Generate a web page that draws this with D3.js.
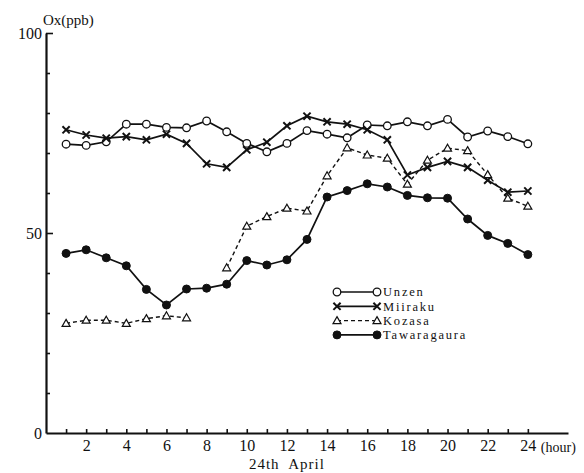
<!DOCTYPE html>
<html>
<head>
<meta charset="utf-8">
<script src="https://cdn.jsdelivr.net/npm/d3@7/dist/d3.min.js"></script>
<style>
  html, body { margin: 0; padding: 0; background: #fff; }
  svg { display: block; }
  text { font-family: "Liberation Serif", "Times New Roman", serif; fill: #111; }
</style>
</head>
<body>
<svg id="chart" width="584" height="473"></svg>
<script>
// Hourly Ox concentration (ppb) on 24th April at four stations
const hours = [1, 2, 3, 4, 5, 6, 7, 8, 9, 10, 11, 12, 13, 14, 15, 16, 17, 18, 19, 20, 21, 22, 23, 24];
const unzen = [72.2, 71.9, 72.8, 77.2, 77.2, 76.4, 76.3, 78.0, 75.3, 72.4, 70.3, 72.4, 75.6, 74.7, 73.8, 77.0, 76.8, 77.8, 76.8, 78.4, 74.0, 75.5, 74.1, 72.3];
const miiraku = [75.8, 74.5, 73.7, 74.1, 73.3, 74.7, 72.4, 67.3, 66.4, 70.8, 72.7, 76.8, 79.2, 77.8, 77.2, 75.8, 73.3, 64.5, 66.4, 67.9, 66.4, 63.2, 60.2, 60.5];
const kozasa = [27.4, 28.2, 28.2, 27.4, 28.6, 29.3, 28.8, null, 41.3, 51.7, 54.1, 56.2, 55.5, 64.3, 71.3, 69.5, 68.7, 62.2, 68.2, 71.2, 70.6, 64.6, 58.7, 56.7];
const tawaragaura = [44.9, 45.8, 43.8, 41.8, 35.9, 32.0, 36.0, 36.2, 37.2, 43.1, 42.0, 43.3, 48.4, 59.0, 60.6, 62.3, 61.5, 59.4, 58.8, 58.7, 53.5, 49.4, 47.4, 44.6];

const seriesNames = ["Unzen", "Miiraku", "Kozasa", "Tawaragaura"];
const xTickValues = hours;
const xTickLabels = [2, 4, 6, 8, 10, 12, 14, 16, 18, 20, 22, 24];
const yTickValues = [0, 10, 20, 30, 40, 50, 60, 70, 80, 90, 100];
const yTickLabels = [0, 50, 100];

const svg = d3.select("#chart");

const x = d3.scaleLinear().domain([0, 26]).range([46, 568]);
const y = d3.scaleLinear().domain([0, 100]).range([433, 33]);

// ---- axes ----
const xAxis = d3.axisBottom(x)
  .tickValues(xTickValues)
  .tickSizeInner(-4)
  .tickSizeOuter(0)
  .tickPadding(8)
  .tickFormat(d => xTickLabels.includes(d) ? d : "");

const gx = svg.append("g").attr("transform", `translate(0,${y(0)})`).call(xAxis);
gx.select(".domain").attr("stroke", "#111").attr("stroke-width", 2.2);
gx.selectAll(".tick line").attr("stroke", "#111").attr("stroke-width", 1.6);
gx.selectAll(".tick text")
  .attr("font-size", 16)
  .attr("font-family", "Liberation Serif")
  .attr("fill", "#111")
  .attr("dy", "0.62em");

const yAxis = d3.axisLeft(y)
  .tickValues(yTickValues)
  .tickSizeInner(-4)
  .tickSizeOuter(0)
  .tickPadding(4)
  .tickFormat(d => yTickLabels.includes(d) ? d : "");

const gy = svg.append("g").attr("transform", `translate(${x(0)},0)`).call(yAxis);
gy.select(".domain").attr("stroke", "#111").attr("stroke-width", 2.2);
gy.selectAll(".tick line")
  .attr("stroke", "#111")
  .attr("stroke-width", 1.6)
  .attr("x2", d => (d === 50 || d === 100) ? 7 : (d === 0 ? 0 : 4));
gy.selectAll(".tick text")
  .attr("font-size", 16)
  .attr("font-family", "Liberation Serif")
  .attr("fill", "#111");

// axis titles
svg.append("text")
  .attr("x", x(0) - 3).attr("y", 25)
  .attr("font-size", 15)
  .text("Ox(ppb)");

svg.append("text")
  .attr("x", x(24) + 13).attr("y", 452)
  .attr("font-size", 14)
  .text("(hour)");

svg.append("text")
  .attr("x", x(12)).attr("y", 469)
  .attr("text-anchor", "middle")
  .attr("font-size", 15)
  .attr("letter-spacing", 1)
  .style("white-space", "pre")
  .text("24th  April");

// ---- series ----
const stroke = "#111";
const lineGen = d3.line()
  .defined(d => d.v !== null)
  .x(d => x(d.h))
  .y(d => y(d.v));

const series = [
  { name: seriesNames[0], values: unzen, marker: "open", dash: null },
  { name: seriesNames[1], values: miiraku, marker: "cross", dash: null },
  { name: seriesNames[2], values: kozasa, marker: "triangle", dash: "4,3" },
  { name: seriesNames[3], values: tawaragaura, marker: "filled", dash: null }
];

function drawMarker(g, kind, cx, cy) {
  if (kind === "open") {
    g.append("circle").attr("cx", cx).attr("cy", cy).attr("r", 3.8)
      .attr("fill", "#fff").attr("stroke", stroke).attr("stroke-width", 1.3);
  } else if (kind === "filled") {
    g.append("circle").attr("cx", cx).attr("cy", cy).attr("r", 4)
      .attr("fill", stroke).attr("stroke", stroke).attr("stroke-width", 1);
  } else if (kind === "cross") {
    const s = 3.6;
    g.append("path")
      .attr("d", `M${cx - s},${cy - s}L${cx + s},${cy + s}M${cx - s},${cy + s}L${cx + s},${cy - s}`)
      .attr("stroke", stroke).attr("stroke-width", 2).attr("fill", "none");
  } else if (kind === "triangle") {
    const s = 4;
    g.append("path")
      .attr("d", `M${cx},${cy - s}L${cx + s},${cy + s * 0.75}L${cx - s},${cy + s * 0.75}Z`)
      .attr("fill", "#fff").attr("stroke", stroke).attr("stroke-width", 1.2);
  }
}

series.forEach(s => {
  const pts = hours.map((h, i) => ({ h, v: s.values[i] }));
  const g = svg.append("g");
  g.append("path")
    .datum(pts)
    .attr("d", lineGen)
    .attr("fill", "none")
    .attr("stroke", stroke)
    .attr("stroke-width", s.dash ? 1.4 : 1.7)
    .attr("stroke-dasharray", s.dash);
  pts.filter(d => d.v !== null).forEach(d => drawMarker(g, s.marker, x(d.h), y(d.v)));
});

// ---- legend ----
const legend = svg.append("g");
const legendX0 = 337, legendX1 = 377, legendY0 = 292, legendStep = 14.3;
series.forEach((s, i) => {
  const ly = legendY0 + i * legendStep;
  legend.append("line")
    .attr("x1", legendX0).attr("x2", legendX1)
    .attr("y1", ly).attr("y2", ly)
    .attr("stroke", stroke)
    .attr("stroke-width", s.dash ? 1.3 : 1.7)
    .attr("stroke-dasharray", s.dash);
  drawMarker(legend, s.marker, legendX0, ly);
  drawMarker(legend, s.marker, legendX1, ly);
  legend.append("text")
    .attr("x", legendX1 + 6).attr("y", ly)
    .attr("dy", "0.35em")
    .attr("font-size", 12.5)
    .attr("letter-spacing", 1.8)
    .text(s.name);
});
</script>
</body>
</html>
